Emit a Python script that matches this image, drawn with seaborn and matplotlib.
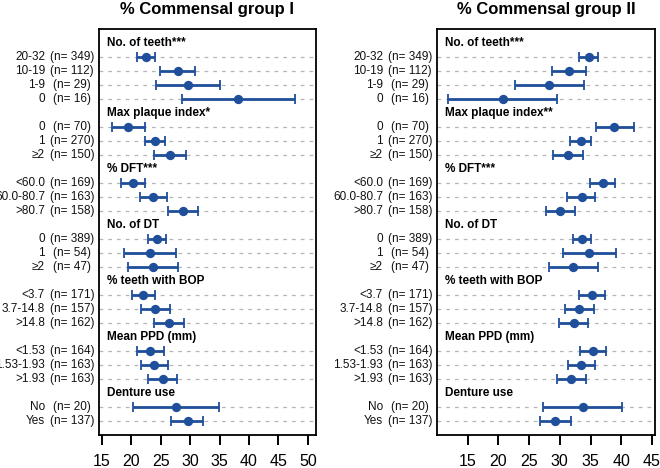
import numpy as np
import pandas as pd
import matplotlib
matplotlib.use("Agg")
import matplotlib.pyplot as plt
import matplotlib.transforms as mtransforms
import seaborn as sns

# --- data ---
headers = ["No. of teeth***", "Max plaque index*", "% DFT***", "No. of DT",
           "% teeth with BOP", "Mean PPD (mm)", "Denture use"]
headers_2 = ["No. of teeth***", "Max plaque index**", "% DFT***", "No. of DT",
             "% teeth with BOP", "Mean PPD (mm)", "Denture use"]
categories = [
    ["20-32", "10-19", "1-9", "0"],
    ["0", "1", "\u22652"],
    ["<60.0", "60.0-80.7", ">80.7"],
    ["0", "1", "\u22652"],
    ["<3.7", "3.7-14.8", ">14.8"],
    ["<1.53", "1.53-1.93", ">1.93"],
    ["No", "Yes"],
]
n_counts = [
    [349, 112, 29, 16],
    [70, 270, 150],
    [169, 163, 158],
    [389, 54, 47],
    [171, 157, 162],
    [164, 163, 163],
    [20, 137],
]

# group I
mean_1 = [22.5, 27.85, 29.7, 38.2, 19.5, 24.0, 26.6, 20.35, 23.6, 28.8,
          24.3, 23.2, 23.6, 22.05, 24.1, 26.4, 23.25, 23.9, 25.3, 27.6, 29.55]
lo_1 = [20.9, 24.8, 24.2, 28.6, 16.65, 22.3, 23.9, 18.2, 21.4, 26.3,
        22.85, 18.8, 19.4, 20.05, 21.65, 23.9, 20.9, 21.65, 22.8, 20.35, 26.8]
hi_1 = [24.0, 30.9, 35.1, 47.8, 22.3, 25.75, 29.3, 22.3, 26.0, 31.3,
        25.9, 27.6, 27.9, 24.0, 26.6, 29.0, 25.6, 26.2, 27.7, 34.9, 32.2]

# group II
mean_2 = [34.7, 31.5, 28.2, 20.7, 38.9, 33.4, 31.4, 37.0, 33.55, 30.0,
          33.6, 34.8, 32.2, 35.2, 33.15, 32.3, 35.4, 33.5, 31.85, 33.7, 29.25]
lo_2 = [33.2, 28.8, 22.7, 11.85, 35.9, 31.6, 28.9, 34.9, 31.2, 27.7,
        32.1, 30.5, 28.3, 33.05, 30.8, 29.9, 33.3, 31.3, 29.6, 27.2, 26.75]
hi_2 = [36.2, 34.25, 33.9, 29.6, 42.0, 35.1, 33.8, 39.0, 35.8, 32.4,
        35.0, 39.1, 36.25, 37.35, 35.55, 34.6, 37.6, 35.7, 34.25, 40.2, 31.75]

x_ticks_1 = [15, 20, 25, 30, 35, 40, 45, 50]
x_ticks_2 = [15, 20, 25, 30, 35, 40, 45]

BLUE = "#1f4e9b"

sns.set_style("white")
plt.rcParams["font.family"] = ["Liberation Sans", "DejaVu Sans"]
plt.rcParams["text.color"] = "black"

# row positions: header rows and data rows
header_rows = []
data_rows = []
labels = []
ns = []
r = 0
for cats, cnts in zip(categories, n_counts):
    header_rows.append(r)
    r += 1
    for c, n in zip(cats, cnts):
        data_rows.append(r)
        labels.append(c)
        ns.append(n)
        r += 1
n_rows = r


def draw_panel(ax, title, heads, mean, lo, hi, xlim, ticks):
    df = pd.DataFrame({"row": data_rows, "mean": mean, "lo": lo, "hi": hi})
    for y in data_rows:
        ax.axhline(y, color="#b5b5b5", lw=0.9, ls=(0, (3, 4)), zorder=0)
    ax.errorbar(df["mean"], df["row"],
                xerr=[df["mean"] - df["lo"], df["hi"] - df["mean"]],
                fmt="none", ecolor=BLUE, elinewidth=2, capsize=3.6, capthick=1.3, zorder=2)
    sns.scatterplot(data=df, x="mean", y="row", ax=ax, color=BLUE, s=45,
                    edgecolor=BLUE, linewidth=0, zorder=3, legend=False)
    ax.set_xlim(*xlim)
    ax.set_ylim(n_rows, -1)
    ax.set_yticks([])
    ax.set_xticks(ticks)
    ax.set_xlabel("")
    ax.set_ylabel("")
    ax.tick_params(axis="x", direction="out", length=7, width=1.4, labelsize=11.5,
                   pad=6.5, bottom=True, colors="black")
    for s in ax.spines.values():
        s.set_color("black")
        s.set_linewidth(1.3)
    ax.set_title(title, fontsize=12, fontweight="bold", pad=11, color="black")

    trans = ax.get_yaxis_transform()
    fig = ax.figure
    off_cat = mtransforms.offset_copy(trans, fig=fig, x=-54, y=0, units="dots")
    off_n = mtransforms.offset_copy(trans, fig=fig, x=-27, y=0, units="dots")
    off_h = mtransforms.offset_copy(trans, fig=fig, x=8, y=0, units="dots")
    for y, lab, n in zip(data_rows, labels, ns):
        ax.text(0, y, lab, transform=off_cat, ha="right", va="center", fontsize=8.5,
                color="#111111")
        ax.text(0, y, f"(n= {n})", transform=off_n, ha="center", va="center", fontsize=8.5,
                color="#111111")
    for y, h in zip(header_rows, heads):
        ax.text(0, y, h, transform=off_h, ha="left", va="center", fontsize=8.5,
                fontweight="bold", color="black")


fig = plt.figure(figsize=(6.6, 4.68), dpi=100)
ax1 = fig.add_axes([99 / 660, 1 - 435 / 468, 217 / 660, 406 / 468])
ax2 = fig.add_axes([437 / 660, 1 - 435 / 468, 218 / 660, 406 / 468])

draw_panel(ax1, "% Commensal group I", headers, mean_1, lo_1, hi_1, (14.5, 51.4), x_ticks_1)
draw_panel(ax2, "% Commensal group II", headers_2, mean_2, lo_2, hi_2, (10.0, 45.5), x_ticks_2)

fig.savefig("out.png", dpi=100)
